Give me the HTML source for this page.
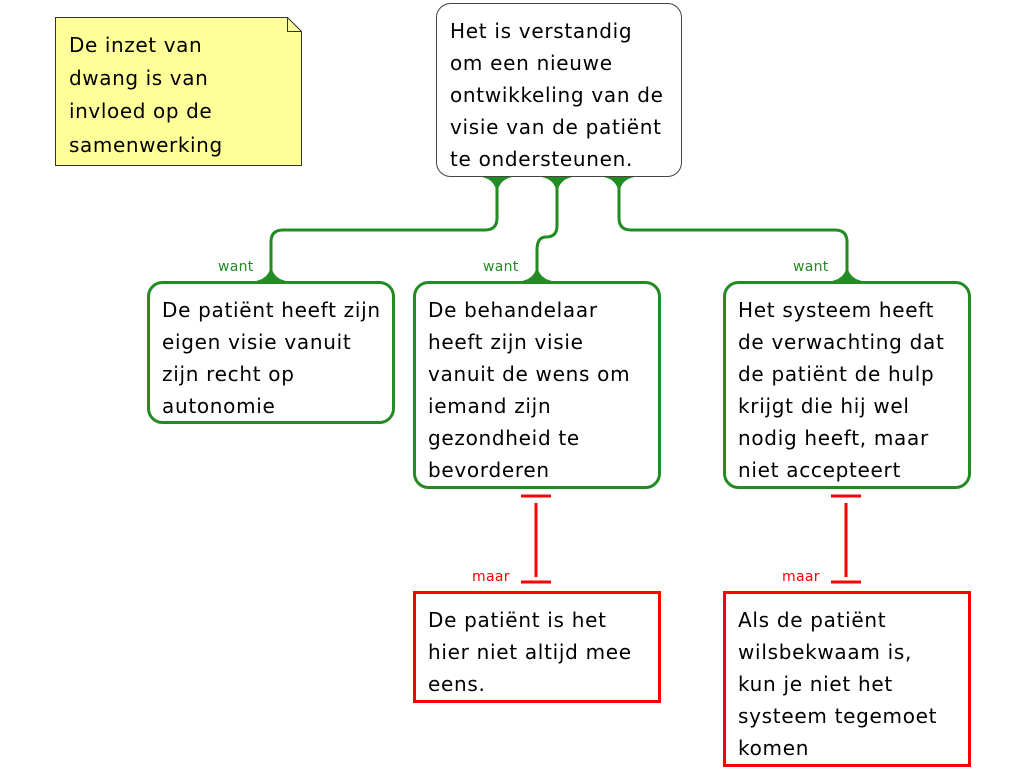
<!DOCTYPE html>
<html><head><meta charset="utf-8"><style>
body{margin:0;background:#fff}
svg text{font-family:"DejaVu Sans","Liberation Sans",sans-serif;font-size:20px;letter-spacing:0.7px;fill:#000}
.n text{font-size:20px;letter-spacing:0.6px}
.l{font-size:14px!important;letter-spacing:0.3px!important}
</style></head><body>
<svg width="1024" height="768" viewBox="0 0 1024 768" xmlns="http://www.w3.org/2000/svg">
<g class="n">
<path d="M55.5 17.5H287.5L301.5 31.5V165.5H55.5Z" fill="#ffff99" stroke="#333" stroke-width="1"/>
<path d="M287.5 17.5V31.5H301.5" fill="none" stroke="#333"/>
<text x="69" y="52">De inzet van</text>
<text x="69" y="85">dwang is van</text>
<text x="69" y="118">invloed op de</text>
<text x="69" y="152">samenwerking</text>
</g>
<rect x="436.5" y="3.5" width="245" height="173" rx="14" fill="#fff" stroke="#444"/>
<text x="450" y="38">Het is verstandig</text>
<text x="450" y="70">om een nieuwe</text>
<text x="450" y="102">ontwikkeling van de</text>
<text x="450" y="134">visie van de patiënt</text>
<text x="450" y="166">te ondersteunen.</text>
<g fill="none" stroke="#228b22" stroke-width="3">
<path d="M497 177V218Q497 230 485 230H283Q271 230 271 242V281"/>
<path d="M557 177V226Q557 237 546 237Q537 237 537 250V281"/>
<path d="M619 177V218Q619 230 631 230H835Q847 230 847 242V281"/>
</g>
<g fill="#228b22">
<path d="M482 177H512Q498 180 497 195Q496 180 482 177Z"/>
<path d="M542 177H572Q558 180 557 195Q556 180 542 177Z"/>
<path d="M604 177H634Q620 180 619 195Q618 180 604 177Z"/>
<path d="M256 281H286Q272 278 271 264Q270 278 256 281Z"/>
<path d="M522 281H552Q538 278 537 264Q536 278 522 281Z"/>
<path d="M832 281H862Q848 278 847 264Q846 278 832 281Z"/>
</g>
<text class="l" x="218" y="271" style="fill:#228b22">want</text>
<text class="l" x="483" y="271" style="fill:#228b22">want</text>
<text class="l" x="793" y="271" style="fill:#228b22">want</text>
<g fill="#fff" stroke="#228b22" stroke-width="3">
<rect x="148.5" y="282.5" width="245" height="140" rx="14"/>
<rect x="414.5" y="282.5" width="245" height="205" rx="14"/>
<rect x="724.5" y="282.5" width="245" height="205" rx="14"/>
</g>
<text x="162" y="317">De patiënt heeft zijn</text>
<text x="162" y="349">eigen visie vanuit</text>
<text x="162" y="381">zijn recht op</text>
<text x="162" y="413">autonomie</text>
<text x="428" y="317">De behandelaar</text>
<text x="428" y="349">heeft zijn visie</text>
<text x="428" y="381">vanuit de wens om</text>
<text x="428" y="413">iemand zijn</text>
<text x="428" y="445">gezondheid te</text>
<text x="428" y="477">bevorderen</text>
<text x="738" y="317">Het systeem heeft</text>
<text x="738" y="349">de verwachting dat</text>
<text x="738" y="381">de patiënt de hulp</text>
<text x="738" y="413">krijgt die hij wel</text>
<text x="738" y="445">nodig heeft, maar</text>
<text x="738" y="477">niet accepteert</text>
<g stroke="#ff0000" stroke-width="3" fill="none">
<path d="M521 496H551M536 503V577M521 582H551"/>
<path d="M831 496H861M846 503V577M831 582H861"/>
</g>
<text class="l" x="472" y="581" style="fill:#ff0000">maar</text>
<text class="l" x="782" y="581" style="fill:#ff0000">maar</text>
<g fill="#fff" stroke="#ff0000" stroke-width="3">
<rect x="414.5" y="592.5" width="245" height="109"/>
<rect x="724.5" y="592.5" width="245" height="173"/>
</g>
<text x="428" y="627">De patiënt is het</text>
<text x="428" y="659">hier niet altijd mee</text>
<text x="428" y="691">eens.</text>
<text x="738" y="627">Als de patiënt</text>
<text x="738" y="659">wilsbekwaam is,</text>
<text x="738" y="691">kun je niet het</text>
<text x="738" y="723">systeem tegemoet</text>
<text x="738" y="755">komen</text>
</svg>
</body></html>
